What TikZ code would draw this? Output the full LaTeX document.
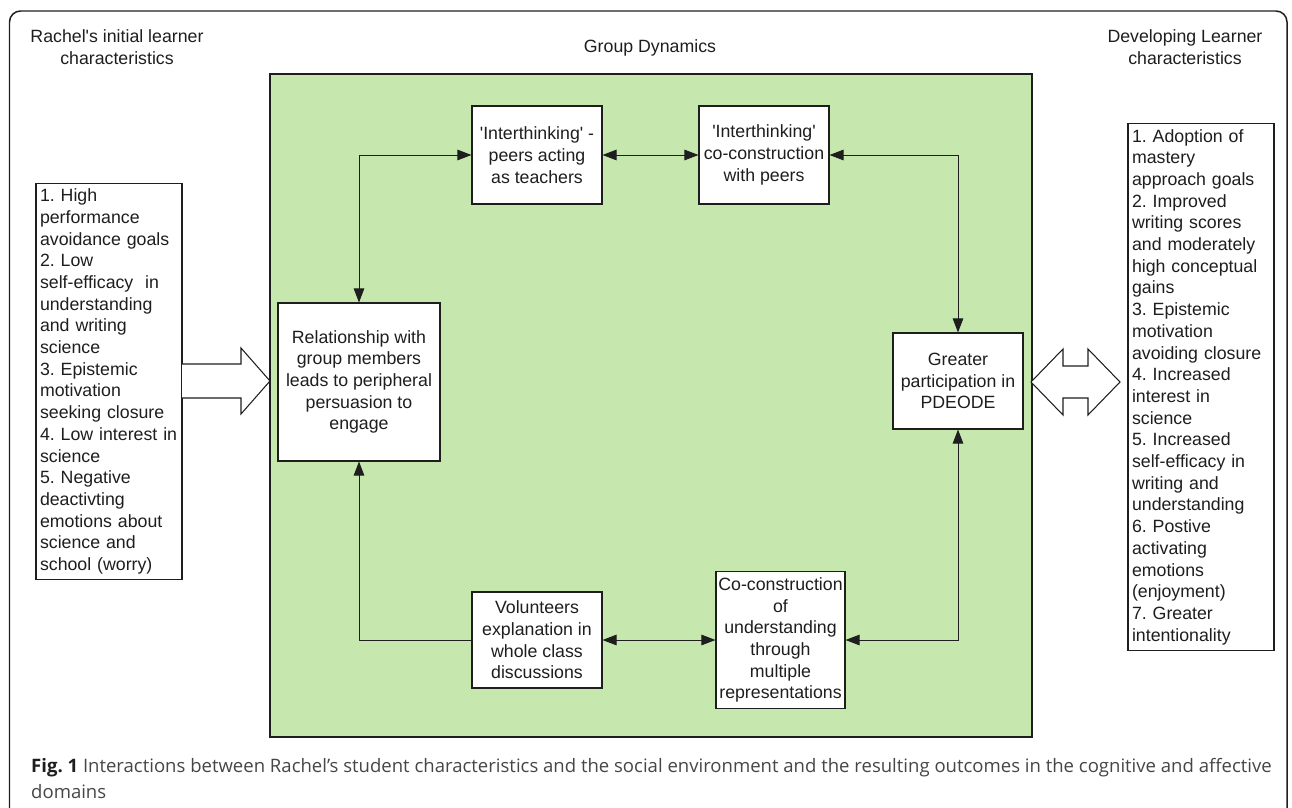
\documentclass[tikz,border=0pt]{standalone}
\usepackage{fontspec}
\setmainfont{Liberation Sans}
\newfontfamily\capfont{Open Sans}
\usetikzlibrary{arrows.meta}
\definecolor{groupgreen}{RGB}{198,232,174}
\definecolor{inkblack}{RGB}{30,30,30}
\definecolor{capgray}{RGB}{70,70,70}
\newcommand{\sq}{\textquotesingle}
\frenchspacing

\begin{document}
\begin{tikzpicture}[x=0.02cm, y=-0.02cm,
                    font=\fontsize{10.1}{12.35}\selectfont,
                    every node/.style={text=inkblack},
                    box/.style={draw=inkblack, line width=0.6pt, fill=white, inner sep=0pt, align=center},
                    listbox/.style={draw=inkblack, line width=0.6pt, fill=white, inner xsep=0.08cm,
                                    inner ysep=0pt, align=left, text width=2.76cm},
                    link/.style={draw=inkblack, line width=0.55pt,
                                 {Triangle[length=0.28cm,width=0.21cm]}-{Triangle[length=0.28cm,width=0.21cm]}},
                    onelink/.style={draw=inkblack, line width=0.55pt, -{Triangle[length=0.28cm,width=0.21cm]}},
                    bigarrow/.style={draw=inkblack, line width=0.6pt, fill=white, line join=miter}]
    \useasboundingbox (0,0) rectangle (1292,808);
    \draw[inkblack, line width=0.85pt, rounded corners=0.22cm] (9.5,11) rectangle (1287,840);

    \node[align=center] (inithead) at (117,47.5) {Rachel\sq s initial learner\\characteristics};
    \node (grouphead) at (650,48) {Group Dynamics};
    \node[align=center] (devhead) at (1185,47.5) {Developing Learner\\characteristics};

    \node[draw=inkblack, line width=0.85pt, fill=groupgreen, minimum width=15.24cm,
          minimum height=13.26cm] (group) at (651,405.5) {};

    \node[listbox, minimum height=7.94cm] (initial) at (109,381.5)
        {1. High\\performance\\avoidance goals\\2. Low\\self-efficacy \ in\\understanding\\and writing\\science\\
         3. Epistemic\\motivation\\seeking closure\\4. Low interest in\\science\\5. Negative\\deactivting\\
         emotions about\\science and\\school (worry)};
    \node[listbox, minimum height=10.56cm] (developing) at (1201,387)
        {1. Adoption of\\mastery\\approach goals\\2. Improved\\writing scores\\and moderately\\high conceptual\\gains\\
         3. Epistemic\\motivation\\avoiding closure\\4. Increased\\interest in\\science\\5. Increased\\
         self-efficacy in\\writing and\\understanding\\6. Postive\\activating\\emotions\\(enjoyment)\\
         7. Greater\\intentionality};

    \node[box, minimum width=3.24cm, minimum height=3.16cm] (rel) at (359,382)
        {Relationship with\\group members\\leads to peripheral\\persuasion to\\engage};
    \node[box, minimum width=2.6cm, minimum height=1.96cm] (peers) at (537,155)
        {\sq Interthinking\sq\ -\\peers acting\\as teachers};
    \node[box, minimum width=2.6cm, minimum height=1.96cm] (copeers) at (764,155)
        {\sq Interthinking\sq\\co-construction\\with peers};
    \node[box, minimum width=2.6cm, minimum height=1.92cm] (greater) at (958,381)
        {Greater\\participation in\\PDEODE};
    \node[box, minimum width=2.6cm, minimum height=1.92cm] (vol) at (537,640)
        {Volunteers\\explanation in\\whole class\\discussions};
    \node[box, minimum width=2.58cm, minimum height=2.74cm] (coc) at (780.5,640)
        {Co-construction\\of\\understanding\\through\\multiple\\representations};

    \draw[link] (rel.north) |- (peers.west);
    \draw[link] (peers) -- (copeers);
    \draw[link] (copeers.east) -| (greater.north);
    \draw[link] (greater.south) |- (coc.east);
    \draw[link] (vol) -- (coc);
    \draw[onelink] (vol.west) -| (rel.south);

    \draw[bigarrow] (182,364) -- (241,364) -- (241,348) -- (270,381) -- (241,414) -- (241,398) -- (182,398);
    \draw[bigarrow] (1031,382) -- (1063,349) -- (1063,366) -- (1088,366) -- (1088,349) -- (1120,382)
                    -- (1088,415) -- (1088,398) -- (1063,398) -- (1063,415) -- cycle;

    \node[anchor=base west, font=\capfont\fontsize{10.55}{12}\selectfont, text=capgray] (caption) at (25,772)
        {\textbf{\color{inkblack}Fig. 1} Interactions between Rachel’s student characteristics and the social environment and the resulting outcomes in the cognitive and affective};
    \node[anchor=base west, font=\capfont\fontsize{10.55}{12}\selectfont, text=capgray] (captail) at (25,798)
        {domains};
\end{tikzpicture}
\end{document}
